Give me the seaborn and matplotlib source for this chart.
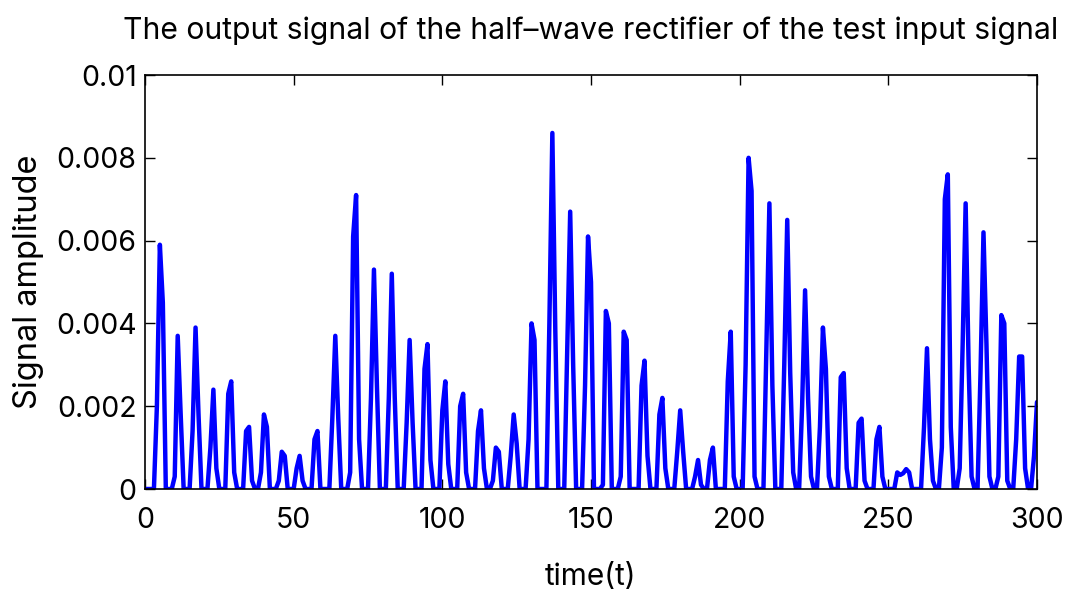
import numpy as np
import pandas as pd
import matplotlib
matplotlib.use("Agg")
import matplotlib.pyplot as plt
import seaborn as sns

# Sample index (time) and rectified amplitude (units of 1e-4)
time_t = list(range(0, 301))
amp_1e4 = [
    0, 0, 0, 0, 20, 59, 45, 0, 0, 0,
    3, 37, 18, 0, 0, 0, 14, 39, 18, 0,
    0, 0, 10, 24, 5, 0, 0, 0, 23, 26,
    4, 0, 0, 0, 14, 15, 2, 0, 0, 4,
    18, 15, 0, 0, 0, 2, 9, 8, 0, 0,
    0, 5, 8, 2, 0, 0, 0, 12, 14, 0,
    0, 0, 0, 17, 37, 17, 0, 0, 0, 4,
    61, 71, 12, 0, 0, 0, 22, 53, 25, 0,
    0, 0, 22, 52, 22, 0, 0, 0, 16, 36,
    16, 0, 0, 0, 29, 35, 7, 0, 0, 0,
    19, 26, 6, 0, 0, 0, 20, 23, 4, 0,
    0, 0, 14, 19, 5, 0, 0, 2, 10, 9,
    0, 0, 0, 8, 18, 11, 0, 0, 0, 12,
    40, 36, 0, 0, 0, 0, 40, 86, 38, 0,
    0, 0, 33, 67, 30, 0, 0, 0, 25, 61,
    50, 0, 0, 0, 1, 43, 40, 0, 0, 0,
    3, 38, 36, 0, 0, 0, 0, 25, 31, 8,
    0, 0, 0, 18, 22, 5, 0, 0, 0, 9,
    19, 9, 0, 0, 0, 3, 7, 1, 0, 0,
    7, 10, 0, 0, 0, 0, 26, 38, 3, 0,
    0, 0, 30, 80, 72, 3, 0, 0, 0, 35,
    69, 25, 0, 0, 0, 30, 65, 28, 4, 0,
    0, 20, 48, 22, 3, 0, 0, 15, 39, 29,
    3, 0, 0, 0, 27, 28, 5, 0, 0, 0,
    16, 17, 2, 0, 0, 0, 12, 15, 3, 0,
    0, 0, 0, 4, 3.4, 3.8, 4.8, 4, 0, 0,
    0, 0, 15, 34, 12, 2, 0, 0, 10, 70,
    76, 15, 0, 0, 5, 35, 69, 30, 3, 0,
    0, 28, 62, 35, 3, 0, 0, 3, 42, 40,
    2, 0, 0, 12, 32, 32, 5, 0, 0, 8,
    21,
]

x_ticks = [0, 50, 100, 150, 200, 250, 300]
y_ticks = [0, 0.002, 0.004, 0.006, 0.008, 0.01]
y_tick_labels = ["0", "0.002", "0.004", "0.006", "0.008", "0.01"]

df = pd.DataFrame({"t": time_t, "amp": np.array(amp_1e4) * 1e-4})

sns.set_theme(style="white")
plt.rcParams["font.family"] = ["Inter", "DejaVu Sans"]

fig = plt.figure(figsize=(10.71, 5.99), dpi=100)
ax = fig.add_axes([145 / 1071, 1 - 489 / 599, (1037 - 145) / 1071, (489 - 75) / 599])

sns.lineplot(data=df, x="t", y="amp", ax=ax, color="#0000ff", linewidth=3.2,
             estimator=None, sort=False)

ax.set_xlim(0, 300)
ax.set_ylim(0, 0.01)
ax.set_xticks(x_ticks)
ax.set_xticklabels([str(v) for v in x_ticks])
ax.set_yticks(y_ticks)
ax.set_yticklabels(y_tick_labels)

for side in ["left", "right", "top", "bottom"]:
    ax.spines[side].set_visible(True)
    ax.spines[side].set_color("black")
    ax.spines[side].set_linewidth(1.2)

ax.tick_params(axis="both", which="major", direction="in", length=7, width=1,
               labelsize=20.5, top=True, right=True, bottom=True, left=True,
               colors="black")
ax.tick_params(axis="x", pad=13)
ax.tick_params(axis="y", pad=6)

ax.set_xlabel("time(t)", fontsize=21.5, labelpad=21, color="black")
ax.set_ylabel("Signal amplitude", fontsize=23.5, labelpad=9, color="black")
ax.set_title("The output signal of the half\u2013wave rectifier of the test input signal",
             fontsize=21.7, pad=26, color="black")
ax.grid(False)

fig.savefig("out.png", dpi=100)
